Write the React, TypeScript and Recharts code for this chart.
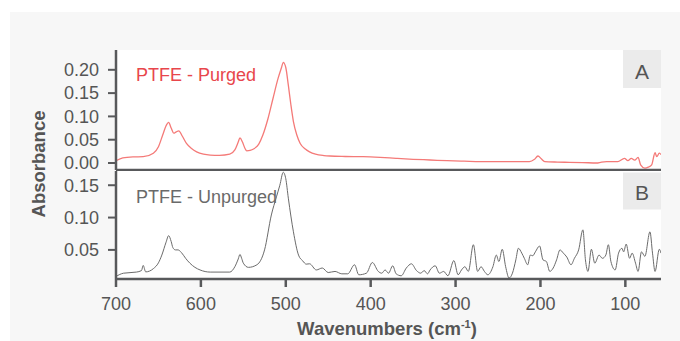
import { CartesianGrid, Line, LineChart, XAxis, YAxis } from "recharts"

// Panel A - PTFE purged spectrum
const purgedWavenumbers = [
  700, 692, 680, 668, 656, 650, 645, 641, 638, 635, 632, 629, 626, 622, 617, 611, 605, 597, 589, 578,
  566, 560, 556, 554, 551, 548, 546, 542, 538, 532, 527, 521, 515, 509, 505, 503, 500, 497, 494, 491,
  487, 483, 477, 472, 465, 455, 448, 430, 409, 389, 370, 350, 330, 310, 290, 271, 244, 225, 213, 207,
  203, 199, 195, 180, 166, 150, 134, 128, 122, 109, 101, 97, 93, 89, 85, 82, 77, 73, 69, 65, 63, 60, 58,
]
const purgedAbsorbance = [
  0.005, 0.011, 0.013, 0.0135, 0.021, 0.035, 0.06, 0.08, 0.087, 0.075, 0.064, 0.067, 0.069, 0.058, 0.042,
  0.031, 0.024, 0.019, 0.017, 0.0165, 0.019, 0.028, 0.045, 0.054, 0.045, 0.031, 0.026, 0.027, 0.03, 0.04,
  0.06, 0.095, 0.139, 0.182, 0.205, 0.216, 0.205, 0.167, 0.125, 0.089, 0.06, 0.042, 0.03, 0.024, 0.019,
  0.016, 0.015, 0.014, 0.0135, 0.012, 0.01, 0.008, 0.0065, 0.005, 0.004, 0.003, 0.003, 0.003, 0.003, 0.008,
  0.015, 0.009, 0.003, 0.002, 0.0015, 0.001, 0.0, 0.002, 0.003, 0.003, 0.01, 0.005, 0.01, 0.006, 0.012,
  -0.004, -0.011, -0.009, -0.004, 0.022, 0.0135, 0.021, 0.018,
]

// Panel B - PTFE unpurged spectrum
const unpurgedWavenumbers = [
  700, 691, 676, 670, 668, 665, 656, 650, 646, 641, 638, 635, 633, 630, 627, 623, 618, 613, 607, 601,
  589, 566, 560, 556, 554, 552, 550, 544, 534, 525, 517, 511, 507, 503, 500, 497, 491, 485, 480, 476,
  472, 464, 457, 450, 442, 434, 427, 419, 414, 405, 398, 391, 387, 383, 379, 374, 370, 364, 358, 352,
  346, 341, 337, 333, 330, 324, 319, 314, 309, 302, 297, 293, 289, 285, 279, 274, 270, 266, 262, 256,
  252, 249, 245, 241, 237, 233, 229, 226, 222, 219, 215, 212, 209, 206, 201, 197, 193, 189, 185, 181,
  177, 173, 169, 164, 160, 155, 150, 147, 144, 140, 136, 131, 127, 123, 120, 117, 112, 108, 104, 102,
  99, 95, 92, 88, 85, 81, 77, 71, 68, 65, 60, 58,
]
const unpurgedAbsorbance = [
  0.009, 0.014, 0.0157, 0.018, 0.026, 0.016, 0.021, 0.03, 0.042, 0.062, 0.072, 0.063, 0.0535, 0.05, 0.05,
  0.046, 0.037, 0.0295, 0.023, 0.019, 0.0157, 0.0157, 0.024, 0.036, 0.043, 0.037, 0.0295, 0.023, 0.027,
  0.05, 0.104, 0.132, 0.15, 0.17, 0.16, 0.13, 0.078, 0.042, 0.033, 0.028, 0.0285, 0.019, 0.022, 0.015,
  0.0167, 0.013, 0.013, 0.027, 0.0115, 0.014, 0.0305, 0.0167, 0.014, 0.019, 0.014, 0.0254, 0.013, 0.01,
  0.022, 0.0285, 0.018, 0.014, 0.018, 0.013, 0.019, 0.0254, 0.014, 0.0167, 0.01, 0.0335, 0.0115, 0.019,
  0.024, 0.0167, 0.058, 0.0167, 0.024, 0.0167, 0.0115, 0.024, 0.042, 0.032, 0.051, 0.024, 0.0065, 0.014,
  0.0346, 0.0525, 0.045, 0.037, 0.027, 0.042, 0.041, 0.047, 0.056, 0.0346, 0.032, 0.0167, 0.022, 0.0346,
  0.05, 0.045, 0.039, 0.027, 0.037, 0.05, 0.081, 0.0346, 0.0167, 0.051, 0.0295, 0.042, 0.037, 0.042, 0.058,
  0.032, 0.019, 0.045, 0.0525, 0.047, 0.059, 0.037, 0.045, 0.0295, 0.0167, 0.047, 0.04, 0.078, 0.045,
  0.0167, 0.051, 0.045,
]

const xTicks = [700, 600, 500, 400, 300, 200, 100]
const purgedTicks = [0, 0.05, 0.1, 0.15, 0.2]
const unpurgedTicks = [0.05, 0.1, 0.15]

const font = "'Liberation Sans', Arial, Helvetica, sans-serif"
const axisColor = "#58595b"
const tickStyle = { fill: "#555", fontSize: 18, fontFamily: font }

const purgedData = purgedWavenumbers.map((w, i) => ({ w, a: purgedAbsorbance[i] }))
const unpurgedData = unpurgedWavenumbers.map((w, i) => ({ w, a: unpurgedAbsorbance[i] }))

export default function App() {
  return (
    <div style={{ position: "absolute", left: 0, top: 0, width: 680, height: 341, background: "#fff" }}>
      <div style={{ position: "absolute", left: 10, top: 12, right: 0, bottom: 0, background: "#f7f7f7" }} />

      {/* panel A */}
      <div style={{ position: "absolute", left: 0, top: 0 }}>
        <LineChart width={680} height={172} data={purgedData} margin={{ top: 50, right: 19, bottom: 0, left: 0 }}>
          <CartesianGrid fill="#fff" stroke="none" horizontal={false} vertical={false} />
          <XAxis
            dataKey="w"
            type="number"
            domain={[58, 700]}
            reversed
            allowDataOverflow
            height={2}
            tick={false}
            tickLine={false}
            axisLine={{ stroke: axisColor, strokeWidth: 2.5 }}
          />
          <YAxis
            type="number"
            domain={[-0.015, 0.2425]}
            allowDataOverflow
            ticks={purgedTicks}
            interval={0}
            width={116}
            tickSize={8}
            tickMargin={9}
            tick={tickStyle}
            tickFormatter={(v) => v.toFixed(2)}
            tickLine={{ stroke: axisColor, strokeWidth: 2 }}
            axisLine={{ stroke: axisColor, strokeWidth: 2.5 }}
          />
          <Line
            dataKey="a"
            type="monotone"
            stroke="#f47a78"
            strokeWidth={1.3}
            dot={false}
            isAnimationActive={false}
          />
        </LineChart>
      </div>

      {/* panel B */}
      <div style={{ position: "absolute", left: 0, top: 171 }}>
        <LineChart width={680} height={170} data={unpurgedData} margin={{ top: 0, right: 19, bottom: 0, left: 0 }}>
          <CartesianGrid fill="#fff" stroke="none" horizontal={false} vertical={false} />
          <XAxis
            dataKey="w"
            type="number"
            domain={[58, 700]}
            reversed
            allowDataOverflow
            ticks={xTicks}
            interval={0}
            height={62}
            tickSize={8}
            tickMargin={10}
            tick={tickStyle}
            tickLine={{ stroke: axisColor, strokeWidth: 2.5 }}
            axisLine={{ stroke: axisColor, strokeWidth: 2.5 }}
          />
          <YAxis
            type="number"
            domain={[0.005, 0.172]}
            allowDataOverflow
            ticks={unpurgedTicks}
            interval={0}
            width={116}
            tickSize={8}
            tickMargin={9}
            tick={tickStyle}
            tickFormatter={(v) => v.toFixed(2)}
            tickLine={{ stroke: axisColor, strokeWidth: 2 }}
            axisLine={{ stroke: axisColor, strokeWidth: 2.5 }}
          />
          <Line
            dataKey="a"
            type="monotone"
            stroke="#6b6b6b"
            strokeWidth={1}
            dot={false}
            isAnimationActive={false}
          />
        </LineChart>
      </div>

      {/* titles and panel tags */}
      <svg
        width={680}
        height={341}
        style={{ position: "absolute", left: 0, top: 0, pointerEvents: "none" }}
        fontFamily={font}
      >
        <text x={136} y={81} fontSize={18} fill="#e8464c">PTFE - Purged</text>
        <text x={136} y={203} fontSize={18} fill="#6a6a6a">PTFE - Unpurged</text>
        <rect x={623} y={50} width={38} height={38} fill="#ebebeb" />
        <text x={642} y={78.5} fontSize={21} fill="#555" textAnchor="middle">A</text>
        <rect x={623} y={172.5} width={38} height={37} fill="#ebebeb" />
        <text x={642} y={199.5} fontSize={21} fill="#555" textAnchor="middle">B</text>
        <text
          x={45}
          y={164}
          transform="rotate(-90 45 164)"
          fontSize={18.5}
          fontWeight="bold"
          fill="#555"
          textAnchor="middle"
        >
          Absorbance
        </text>
        <text x={387} y={335} fontSize={18.5} fontWeight="bold" fill="#555" textAnchor="middle">
          Wavenumbers (cm
          <tspan fontSize={11} dy={-7}>-1</tspan>
          <tspan dy={7}>)</tspan>
        </text>
      </svg>
    </div>
  )
}
